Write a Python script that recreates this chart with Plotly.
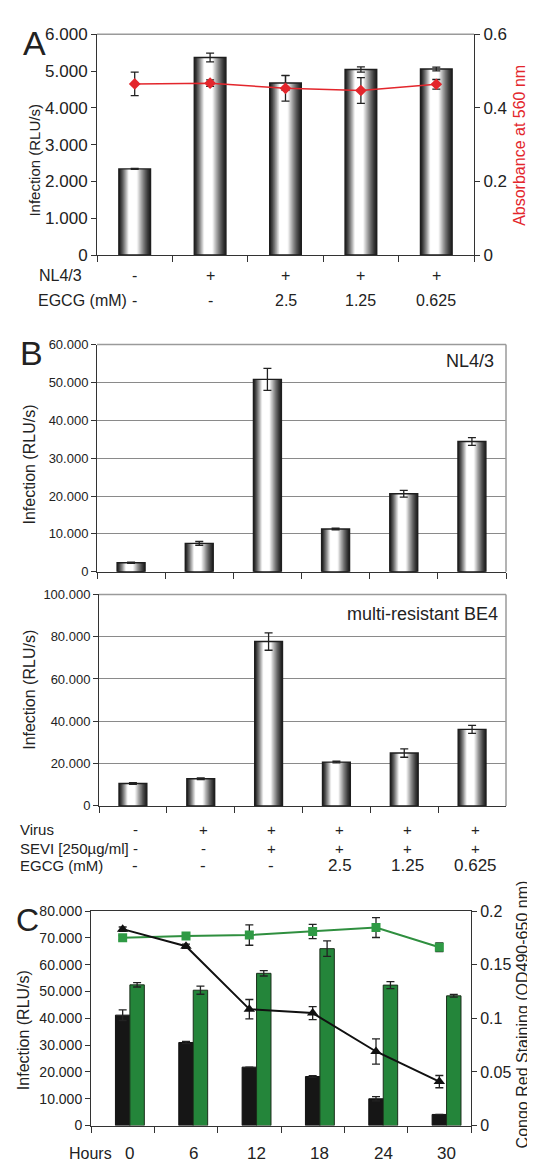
import plotly.graph_objects as go

# ---------------- data ----------------
# Panel A
a_conditions = ["mock", "NL4/3", "NL4/3+EGCG 2.5", "NL4/3+EGCG 1.25", "NL4/3+EGCG 0.625"]
a_nl43 = ["-", "+", "+", "+", "+"]
a_egcg = ["-", "-", "2.5", "1.25", "0.625"]
a_infection = [2340, 5367, 4673, 5040, 5055]
a_infection_err = [15, 120, 200, 70, 50]
a_absorbance = [0.465, 0.467, 0.453, 0.447, 0.464]
a_absorbance_err = [0.032, 0.009, 0.035, 0.035, 0.013]

# Panel B
b_conditions = ["mock", "virus", "virus+SEVI", "SEVI+EGCG 2.5", "SEVI+EGCG 1.25", "SEVI+EGCG 0.625"]
b_virus = ["-", "+", "+", "+", "+", "+"]
b_sevi = ["-", "-", "+", "+", "+", "+"]
b_egcg = ["-", "-", "-", "2.5", "1.25", "0.625"]
b_nl43 = [2400, 7500, 50800, 11300, 20600, 34400]
b_nl43_err = [150, 500, 2900, 200, 900, 1000]
b_be4 = [10600, 12800, 77700, 20700, 25000, 36200]
b_be4_err = [400, 400, 4100, 400, 2000, 1900]

# Panel C
c_hours = ["0", "6", "12", "18", "24", "30"]
c_inf_black = [41200, 31000, 21800, 18300, 10000, 4150]
c_inf_black_err = [2000, 400, 0, 300, 800, 0]
c_inf_green = [52500, 50500, 56800, 66000, 52400, 48400]
c_inf_green_err = [800, 1500, 1000, 2900, 1300, 500]
c_congo_black = [0.1832, 0.1673, 0.1086, 0.1049, 0.0691, 0.0410]
c_congo_black_err = [0.002, 0.002, 0.009, 0.006, 0.0118, 0.0057]
c_congo_green = [0.1752, 0.1768, 0.1777, 0.1810, 0.1847, 0.1663]
c_congo_green_err = [0.002, 0.002, 0.0095, 0.0066, 0.0093, 0.004]

# tick labels
a_ticks = [0, 1000, 2000, 3000, 4000, 5000, 6000]
a_ticktext = ["0", "1.000", "2.000", "3.000", "4.000", "5.000", "6.000"]
a_rticks = [0, 0.2, 0.4, 0.6]
a_rticktext = ["0", "0.2", "0.4", "0.6"]
b1_ticks = [0, 10000, 20000, 30000, 40000, 50000, 60000]
b1_ticktext = ["0", "10.000", "20.000", "30.000", "40.000", "50.000", "60.000"]
b2_ticks = [0, 20000, 40000, 60000, 80000, 100000]
b2_ticktext = ["0", "20.000", "40.000", "60.000", "80.000", "100.000"]
c_ticks = [0, 10000, 20000, 30000, 40000, 50000, 60000, 70000, 80000]
c_ticktext = ["0", "10.000", "20.000", "30.000", "40.000", "50.000", "60.000", "70.000", "80.000"]
c_rticks = [0, 0.05, 0.1, 0.15, 0.2]
c_rticktext = ["0", "0.05", "0.1", "0.15", "0.2"]

# ---------------- helpers ----------------
W, H = 535, 1162
FONT = "Liberation Sans, Arial, sans-serif"
TXT = "#222222"


def px(x):
    return x / W


def py(y):
    return 1 - y / H


def add_shaded_bars(fig, cats, vals, errs, xa, ya, width=0.42, n=20, h=0.42, dark=0.13):
    # cylinder-like shading built from nested bars
    for k in range(n):
        f = 1 - k / n
        left = h * (1 - f)
        right = h + (1 - h) * f
        b = dark + (1 - dark) * min(1.0, (1 - f) / 0.72) ** 1.25
        g = int(round(255 * min(1, b)))
        fig.add_trace(go.Bar(
            x=cats, y=vals, xaxis=xa, yaxis=ya,
            width=width * (right - left), offset=-width / 2 + width * left,
            marker=dict(color=f"rgb({g},{g},{g})", line=dict(width=0)),
            showlegend=False, hoverinfo="skip"))
    fig.add_trace(go.Bar(
        x=cats, y=vals, xaxis=xa, yaxis=ya, width=width, offset=-width / 2,
        marker=dict(color="rgba(0,0,0,0)", line=dict(color="#1e1e1e", width=1.4)),
        error_y=dict(type="data", array=errs, color="#222", thickness=1.3, width=4),
        showlegend=False))


fig = go.Figure()

# Panel A
add_shaded_bars(fig, a_conditions, a_infection, a_infection_err, "x", "y")
fig.add_trace(go.Scatter(
    x=a_conditions, y=a_absorbance, xaxis="x", yaxis="y2", mode="lines+markers",
    line=dict(color="#e3262c", width=1.5),
    marker=dict(symbol="diamond", size=9, color="#e3262c"),
    error_y=dict(type="data", array=a_absorbance_err, color="#222", thickness=1.3, width=4),
    showlegend=False))

# Panel B
add_shaded_bars(fig, b_conditions, b_nl43, b_nl43_err, "x2", "y3", width=0.41)
add_shaded_bars(fig, b_conditions, b_be4, b_be4_err, "x3", "y4", width=0.41)

# Panel C
cw = 0.228
fig.add_trace(go.Bar(
    x=c_hours, y=c_inf_black, xaxis="x4", yaxis="y5", width=cw, offset=-cw / 2,
    marker=dict(color="#161616", line=dict(color="#111", width=1)),
    error_y=dict(type="data", array=c_inf_black_err, color="#222", thickness=1.3, width=4),
    showlegend=False))
fig.add_trace(go.Bar(
    x=c_hours, y=c_inf_green, xaxis="x4", yaxis="y5", width=cw, offset=cw / 2,
    marker=dict(color="#24853a", line=dict(color="#1b2f1b", width=1)),
    error_y=dict(type="data", array=c_inf_green_err, color="#222", thickness=1.3, width=4),
    showlegend=False))
fig.add_trace(go.Scatter(
    x=c_hours, y=c_congo_green, xaxis="x4", yaxis="y6", mode="lines+markers",
    line=dict(color="#2f8f3f", width=2),
    marker=dict(symbol="square", size=9, color="#2f9a45"),
    error_y=dict(type="data", array=c_congo_green_err, color="#222", thickness=1.3, width=4),
    showlegend=False))
fig.add_trace(go.Scatter(
    x=c_hours, y=c_congo_black, xaxis="x4", yaxis="y6", mode="lines+markers",
    line=dict(color="#111", width=2),
    marker=dict(symbol="triangle-up", size=10, color="#111"),
    error_y=dict(type="data", array=c_congo_black_err, color="#222", thickness=1.3, width=4),
    showlegend=False))


def xax(x0, x1, anchor, n, mirror=False):
    return dict(domain=[px(x0), px(x1)], anchor=anchor, type="category",
                range=[-0.5, n - 0.5], showline=True, linecolor="#333", linewidth=1,
                ticks="outside", tickson="boundaries", ticklen=6, tickcolor="#333",
                showticklabels=False, showgrid=False, zeroline=False, mirror=mirror,
                fixedrange=True)


def yax(y0, y1, anchor, rng, tv, tt, size, grid=False):
    return dict(domain=[py(y1), py(y0)], anchor=anchor, range=rng, tickvals=tv, ticktext=tt,
                showline=True, linecolor="#333", linewidth=1, ticks="outside", ticklen=5,
                tickcolor="#333", showgrid=grid, gridcolor="#8a8a8a", gridwidth=1,
                zeroline=False, tickfont=dict(size=size, color=TXT, family=FONT))


fig.update_layout(
    width=W, height=H, margin=dict(l=0, r=0, t=0, b=0),
    paper_bgcolor="white", plot_bgcolor="rgba(0,0,0,0)",
    barmode="overlay", showlegend=False,
    font=dict(family=FONT, color=TXT, size=15),
    xaxis=xax(89, 466, "y", 5),
    yaxis=yax(17.5, 242, "x", [0, 6000], a_ticks, a_ticktext, 17),
    yaxis2=dict(overlaying="y", side="right", anchor="x", range=[0, 0.6],
                tickvals=a_rticks, ticktext=a_rticktext, showline=True, linecolor="#333",
                ticks="outside", ticklen=5, tickcolor="#333", showgrid=False, zeroline=False,
                tickfont=dict(size=17, color=TXT, family=FONT)),
    xaxis2=xax(89, 498, "y3", 6),
    yaxis3=yax(333, 564, "x2", [0, 60000], b1_ticks, b1_ticktext, 13, grid=True),
    xaxis3=xax(91, 498, "y4", 6),
    yaxis4=yax(587, 802, "x3", [0, 100000], b2_ticks, b2_ticktext, 13, grid=True),
    xaxis4=xax(83, 463, "y5", 6, mirror=True),
    yaxis5=yax(909, 1127, "x4", [0, 80000], c_ticks, c_ticktext, 14),
    yaxis6=dict(overlaying="y5", side="right", anchor="x4", range=[0, 0.2],
                tickvals=c_rticks, ticktext=c_rticktext, showline=True, linecolor="#333",
                ticks="outside", ticklen=5, tickcolor="#333", showgrid=False, zeroline=False,
                tickfont=dict(size=16, color=TXT, family=FONT)),
)

shapes = [
    dict(type="line", xref="x domain", yref="y domain", x0=0, x1=1, y0=1, y1=1,
         line=dict(color="#9a9a9a", width=1.5)),
    dict(type="line", xref="x2 domain", yref="y3 domain", x0=0, x1=1, y0=1, y1=1,
         line=dict(color="#9a9a9a", width=1.5)),
    dict(type="line", xref="x2 domain", yref="y3 domain", x0=1, x1=1, y0=0, y1=1,
         line=dict(color="#9a9a9a", width=1.5)),
    dict(type="line", xref="x3 domain", yref="y4 domain", x0=0, x1=1, y0=1, y1=1,
         line=dict(color="#9a9a9a", width=1.5)),
    dict(type="line", xref="x3 domain", yref="y4 domain", x0=1, x1=1, y0=0, y1=1,
         line=dict(color="#9a9a9a", width=1.5)),
]
fig.update_layout(shapes=shapes)

ann = []


def text(x, y, s, size=15, color=TXT, angle=0, xanchor="center", **kw):
    ann.append(dict(x=px(x), y=py(y), xref="paper", yref="paper", text=s, showarrow=False,
                    font=dict(size=size, color=color, family=FONT), textangle=angle,
                    xanchor=xanchor, yanchor="middle", **kw))


# panel letters
text(26, 26, "A", size=34)
text(24, 342, "B", size=34)
text(19, 918, "C", size=32)

# axis titles
text(27, 146, "Infection (RLU/s)", size=15, angle=-90)
text(512, 131, "Absorbance at 560 nm", size=16, color="#e3262c", angle=-90)
text(22, 455, "Infection (RLU/s)", size=16, angle=-90)
text(22, 684, "Infection (RLU/s)", size=16, angle=-90)
text(15, 1030, "Infection (RLU/s)", size=16, angle=-90)
text(514, 1014, "Congo Red Staining (OD490-650 nm)", size=16, angle=-90)

# labels inside panel B
text(488, 350, "NL4/3", size=18, xanchor="right")
text(492, 607, "multi-resistant BE4", size=18, xanchor="right")

# row labels
text(29, 263, "NL4/3", size=16, xanchor="left")
text(28, 288, "EGCG (mM)", size=16, xanchor="left")
text(10, 826, "Virus", size=15, xanchor="left")
text(10, 845, "SEVI [250µg/ml]", size=15, xanchor="left")
text(10, 863, "EGCG (mM)", size=15, xanchor="left")
text(59, 1155, "Hours", size=16, xanchor="left")


def cat_text(xa, labels, y, size=16, xshift=0):
    # placed by category index on the categorical axis
    for i, lab in enumerate(labels):
        ann.append(dict(x=i, y=py(y), xref=xa, yref="paper", text=lab, showarrow=False,
                        font=dict(size=size, color=TXT, family=FONT), xanchor="center",
                        yanchor="middle", xshift=xshift))


cat_text("x", a_nl43, 263)
cat_text("x", a_egcg, 288)
cat_text("x2", b_virus, 826, size=15, xshift=4)
cat_text("x2", b_sevi, 845, size=15, xshift=4)
cat_text("x2", b_egcg, 863, size=17, xshift=4)
cat_text("x4", c_hours, 1155, size=17, xshift=7)

fig.update_layout(annotations=ann)
fig.write_html("out.html")
